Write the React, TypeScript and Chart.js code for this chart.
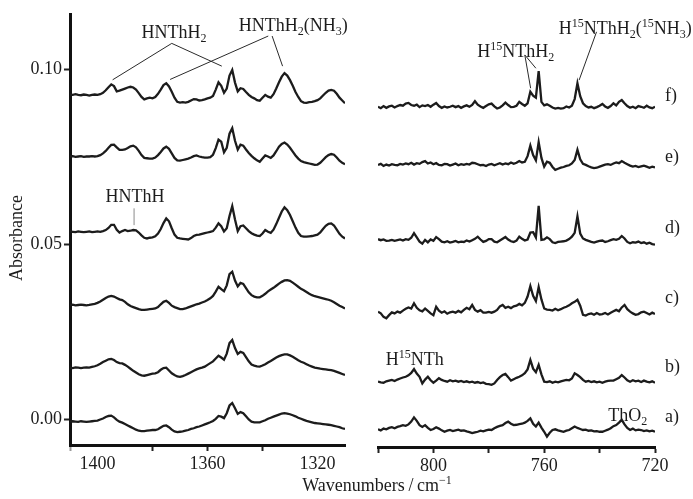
import React, { useEffect, useRef } from 'react';
import { Chart, registerables } from 'chart.js';

Chart.register(...registerables);

// ---- sample grids (1 cm^-1 steps, high to low wavenumber) ----
const LEFT_WN: number[] = Array.from({ length: 101 }, (_, i) => 1410 - i);
const RIGHT_WN: number[] = Array.from({ length: 101 }, (_, i) => 820 - i);

// ---- spectra, in 10^-3 absorbance relative to each trace's offset ----
// order of the traces: a) b) c) d) e) f)
const TRACE_LABELS = ['a)', 'b)', 'c)', 'd)', 'e)', 'f)'];
const LEFT_OFFSETS = [-0.6, 14.8, 32.7, 53.6, 75.1, 92.7];
const RIGHT_OFFSETS = [-2.8, 11.1, 30.3, 51.1, 72.7, 89.3];

const LEFT_A = [
  0.0, 0.1, 0.0, -0.1, 0.1, 0.0, -0.1, 0.0, 0.1, 0.2, 0.3,
  0.6, 0.9, 1.3, 1.6, 1.7, 1.2, 0.5, 0.0, -0.3, -0.7,
  -1.1, -1.5, -1.9, -2.3, -2.6, -2.7, -2.7, -2.6, -2.5, -2.4,
  -2.4, -2.2, -1.7, -1.2, -1.1, -1.6, -2.3, -2.8, -3.0, -2.9,
  -2.8, -2.6, -2.4, -2.1, -1.9, -1.6, -1.4, -1.1, -0.8, -0.5,
  -0.2, 0.2, 0.8, 1.6, 1.4, 1.0, 2.4, 4.6, 5.3, 3.8,
  2.2, 2.7, 2.4, 1.5, 0.6, 0.0, -0.2, -0.2, -0.2, 0.1,
  0.4, 0.8, 1.1, 1.4, 1.7, 2.0, 2.3, 2.4, 2.3, 2.1,
  1.8, 1.5, 1.1, 0.8, 0.5, 0.2, 0.0, -0.2, -0.4, -0.5,
  -0.6, -0.7, -0.8, -0.9, -1.0, -1.2, -1.4, -1.6, -1.9, -2.1,
];
const LEFT_B = [
  0.0, -0.1, 0.1, 0.0, -0.1, 0.0, 0.1, 0.0, 0.2, 0.4, 0.7,
  1.1, 1.6, 2.0, 2.4, 2.5, 2.2, 1.6, 1.3, 1.2, 0.8,
  0.3, -0.3, -0.9, -1.4, -1.9, -2.2, -2.3, -2.1, -1.9, -1.7,
  -1.6, -1.3, -0.6, -0.1, 0.0, -0.8, -1.6, -2.1, -2.5, -2.6,
  -2.4, -2.1, -1.7, -1.3, -0.9, -0.5, -0.2, 0.0, 0.3, 0.8,
  1.3, 1.8, 2.6, 3.4, 2.9, 2.3, 4.0, 7.0, 7.9, 5.6,
  3.9, 4.5, 4.2, 3.0, 1.8, 0.9, 0.6, 0.4, 0.3, 0.6,
  1.0, 1.5, 1.9, 2.4, 2.9, 3.3, 3.6, 3.8, 3.8, 3.5,
  3.1, 2.6, 2.1, 1.7, 1.4, 1.0, 0.6, 0.3, 0.0, -0.1,
  -0.3, -0.4, -0.5, -0.6, -0.7, -0.9, -1.2, -1.5, -1.8, -2.1,
];
const LEFT_C = [
  0.0, 0.1, -0.1, 0.0, 0.1, 0.0, -0.1, 0.0, 0.2, 0.3, 0.6,
  1.0, 1.5, 2.0, 2.4, 2.6, 2.4, 2.0, 1.6, 1.4, 0.9,
  0.2, -0.3, -0.6, -0.9, -1.2, -1.4, -1.4, -1.3, -1.2, -1.1,
  -1.0, -0.6, 0.2, 0.9, 1.2, 0.6, -0.2, -0.6, -0.9, -1.2,
  -1.2, -1.0, -0.7, -0.4, -0.1, 0.2, 0.4, 0.7, 1.0, 1.4,
  1.9, 2.6, 3.8, 5.2, 4.5, 3.9, 5.6, 8.8, 9.5, 7.0,
  5.3, 6.3, 6.0, 4.8, 3.6, 2.8, 2.4, 2.2, 2.2, 2.6,
  3.2, 3.9, 4.4, 4.9, 5.5, 6.1, 6.6, 7.0, 7.1, 6.9,
  6.4, 5.8, 5.2, 4.6, 4.2, 3.7, 3.2, 2.8, 2.5, 2.3,
  2.1, 1.9, 1.7, 1.5, 1.2, 0.8, 0.3, -0.2, -0.6, -1.0,
];
const LEFT_D = [
  0.1, 0.0, -0.1, 0.1, 0.0, -0.1, 0.0, 0.1, -0.1, 0.0, 0.1,
  0.0, 0.2, 0.5, 1.1, 2.0, 2.0, 0.6, -0.2, 0.2, 0.5,
  0.2, 0.3, 0.5, 0.4, -0.2, -1.0, -1.7, -1.9, -1.7, -1.6,
  -1.3, -0.5, 0.8, 2.5, 3.8, 3.0, 1.0, -0.8, -1.7, -1.9,
  -2.0, -2.1, -2.2, -1.8, -1.2, -0.9, -0.8, -0.6, -0.4, -0.2,
  0.0, 0.2, 1.2, 2.4, 1.6, 0.1, 1.0, 4.5, 7.3, 3.5,
  0.2, 1.6, 1.8, 1.0, 0.2, -0.4, -0.8, -1.1, -1.2, -0.5,
  0.5, 0.0, -0.3, 0.6, 2.2, 4.0, 5.8, 7.0, 6.2, 4.8,
  3.0, 1.2, -0.3, -1.2, -1.4, -1.4, -1.3, -1.2, -1.0, -0.8,
  -0.2, 0.8, 1.7, 2.3, 2.4, 1.8, 0.6, -0.6, -1.4, -1.9,
];
const LEFT_E = [
  0.0, 0.1, -0.1, 0.0, 0.1, -0.1, 0.0, 0.0, 0.1, 0.0, 0.1,
  0.4, 0.9, 1.6, 2.5, 3.3, 3.4, 2.6, 1.9, 1.9, 2.0,
  2.4, 2.9, 3.1, 2.6, 1.6, 0.4, -0.4, -0.5, -0.6, -0.6,
  -0.3, 0.4, 1.3, 2.3, 2.8, 2.2, 0.9, -0.4, -1.1, -1.2,
  -1.0, -0.8, -0.6, -0.3, 0.1, 0.3, 0.0, -0.2, -0.3, -0.3,
  -0.2, 0.5, 2.4, 4.8, 4.2, 1.2, 2.5, 6.5, 8.1, 4.5,
  2.0, 3.4, 3.1, 2.0, 1.0, 0.2, -0.5, -1.1, -1.5, -0.6,
  0.3, 0.0, -0.4, 0.3, 1.5, 2.8, 3.6, 4.0, 3.4, 2.5,
  1.4, 0.3, -0.6, -1.3, -1.6, -1.8, -2.0, -2.2, -2.4, -2.3,
  -1.8, -1.0, -0.2, 0.4, 0.7, 0.5, -0.3, -1.2, -1.8, -2.2,
];
const LEFT_F = [
  0.1, 0.0, 0.2, 0.0, -0.1, 0.1, 0.0, -0.2, 0.0, 0.1, 0.0,
  0.2, 0.6, 1.3, 2.2, 3.0, 2.5, 1.0, 1.2, 1.5, 1.8,
  2.1, 2.3, 2.1, 1.5, 0.5, -0.6, -1.3, -1.0, -0.8, -1.0,
  -0.6, 0.3, 1.5, 2.8, 3.3, 2.4, 0.9, -0.8, -2.0, -2.2,
  -2.1, -2.2, -2.0, -1.6, -1.2, -1.3, -1.6, -1.5, -1.3, -1.0,
  -0.8, -0.3, 1.5, 3.6, 2.6, 0.6, 1.8, 5.5, 7.1, 3.5,
  1.0, 1.9, 1.7, 0.8, 0.0, -0.6, -1.0, -1.5, -1.7, -0.8,
  0.0, -0.5, -0.8, 0.2, 1.8, 3.6, 5.2, 6.2, 5.5, 4.2,
  2.6, 0.8, -0.6, -1.8, -2.2, -2.3, -2.1, -2.0, -1.8, -1.5,
  -1.0, -0.2, 0.6, 1.2, 1.4, 1.2, 0.3, -0.8, -1.6, -2.4,
];

const RIGHT_A = [
  0.0, -0.3, 0.2, 0.0, 0.4, 0.6, 0.3, 0.7, 0.9, 1.2, 1.0,
  1.4, 2.2, 3.4, 2.4, 1.2, 0.7, 1.2, 0.4, -0.2, 0.1,
  0.6, 0.2, -0.3, -0.7, -0.4, -0.2, -0.5, -0.3, -0.1, -0.4,
  -0.3, -0.6, -0.8, -1.1, -0.9, -0.7, -0.4, -0.6, -0.3, -0.1,
  -0.2, 0.3, 0.7, 1.0, 1.2, 1.8, 2.2, 1.6, 1.2, 1.3,
  1.5, 1.6, 1.9, 2.4, 3.1, 1.6, 0.8, 1.9, 0.5, -0.7,
  -2.1, -1.0, -0.2, 0.0, -0.3, -0.5, -0.7, -0.4, -0.2, 0.3,
  0.8, 0.4, 0.1, -0.2, -0.1, -0.4, -0.3, -0.6, -0.5, -0.7,
  -0.7, -0.4, -0.1, 0.3, 0.9, 1.2, 1.9, 2.7, 1.4, 0.4,
  -0.2, 0.2, -0.3, -0.1, -0.2, -0.5, -0.3, -0.6, -0.4, -0.7,
];
const RIGHT_B = [
  -0.3, -0.5, -0.6, -0.2, 0.0, 0.2, -0.1, 0.3, 0.6, 0.9, 1.1,
  1.5, 2.2, 3.3, 2.0, 1.1, -0.8, 0.3, 1.1, 0.1, -0.6,
  0.0, 0.7, 0.2, -0.1, -0.3, 0.1, -0.2, 0.0, -0.3, -0.1,
  -0.4, -0.2, -0.5, -0.3, -0.6, -0.4, -0.7, -0.5, -0.9, -1.0,
  -1.2, -0.8, 0.2, 1.0, 1.6, 1.9, 1.0, 0.0, 0.4, 0.8,
  1.1, 1.5, 2.1, 3.2, 5.9, 3.4, 2.4, 4.5, 1.8, -0.3,
  -0.4, -0.2, -0.6, -0.3, -0.5, -0.2, 0.0, 0.2, 0.1, 0.6,
  2.1, 1.6, 1.0, 0.2, -0.3, -0.1, -0.4, -0.2, -0.5, -0.3,
  -0.6, -0.3, -0.1, 0.0, 0.0, 0.4, 0.8, 1.6, 0.9, 0.1,
  -0.3, 0.1, -0.2, 0.0, -0.4, 0.0, -0.3, -0.5, -0.2, -0.6,
];
const RIGHT_C = [
  0.5, 0.0, -1.0, -1.4, -0.5, 0.3, 0.0, 0.5, 0.2, 0.8, 1.3,
  1.7, 1.4, 2.9, 1.6, 0.9, 0.6, 1.4, 0.7, 0.0, -0.5,
  1.9, 0.8, 0.2, 0.6, -0.1, 0.3, 0.5, 0.2, 0.7, 0.3,
  1.0, 1.6, 1.2, 2.4, 1.0, 0.5, 0.9, 0.2, 0.2, 0.4,
  0.2, 0.5, 1.0, 2.0, 2.4, 1.6, 1.9, 1.5, 2.0, 2.2,
  2.7, 2.3, 3.0, 4.8, 7.8, 5.0, 3.5, 7.5, 4.0, 1.4,
  1.1, 1.0, 0.8, 1.3, 0.9, 1.2, 1.6, 1.9, 2.3, 2.9,
  3.3, 3.9, 2.2, -0.4, -0.6, -0.2, 0.0, -0.4, 0.1, -0.3,
  -0.2, 0.1, -0.3, 0.2, 0.6, 1.0, 0.6, 1.7, 2.4, 1.2,
  0.5, 0.0, -0.4, -0.2, 0.3, 0.5, 0.1, -0.3, 0.2, -0.2,
];
const RIGHT_D = [
  0.4, 0.1, 0.3, -0.1, 0.0, 0.2, -0.1, 0.1, 0.3, 0.0, 0.4,
  0.2, 0.8, 2.1, 0.9, -0.3, -0.9, 0.2, -0.5, 0.3, -0.1,
  1.0, 0.4, -0.3, -0.5, -0.2, -0.6, -0.4, -0.1, -0.5, -0.3,
  -0.4, 0.0, -0.3, 0.1, 0.5, 1.1, 0.3, -0.4, -0.1, 0.4,
  0.4, -0.3, -0.5, 0.0, 0.5, 1.0, 0.3, -0.2, -0.4, 0.0,
  1.1, 0.5, 0.0, 0.3, 2.3, 2.4, 0.9, 9.9, 0.2, 0.3,
  0.9, 0.4, -0.5, -0.7, -0.4, -0.3, -0.2, 0.0, 0.4, 1.1,
  2.2, 6.9, 2.0, 0.6, 0.2, -0.1, -0.4, -0.6, -0.3, -0.1,
  0.0, -0.4, -0.2, 0.1, 0.4, 0.2, 0.5, 1.3, 0.6, -0.4,
  -0.8, -0.5, -0.6, -0.3, -0.7, -0.5, -0.9, -0.6, -1.0, -1.2,
];
const RIGHT_E = [
  0.0, 0.3, -0.3, 0.1, -0.2, 0.2, 0.0, -0.1, 0.3, 0.1, 0.4,
  0.2, 0.6, 0.1, 0.5, 0.3, 0.8, 1.1, 0.4, 0.7, 0.2,
  0.5, 0.0, -0.1, 0.3, 0.2, -0.2, 0.1, 0.4, -0.1, 0.2,
  0.0, 0.3, 0.1, 0.6, 0.5, 0.2, -0.1, 0.0, -0.3, 0.1,
  0.3, -0.1, 0.2, 0.5, 0.1, 0.4, 0.2, 0.7, 0.3, 0.6,
  1.1, 0.7, 0.9, 2.5, 5.5, 2.8, 1.3, 6.5, 2.0, -0.5,
  0.9, 0.6, -0.6, -1.4, -1.1, -0.8, -0.6, -0.3, -0.1, 0.4,
  1.4, 4.3, 1.6, 0.3, 0.0, -0.4, -0.7, -0.9, -0.8, -0.5,
  -0.2, 0.1, 0.2, 0.0, 0.4, 0.7, 0.5, 1.1, 0.6, 0.2,
  -0.2, -0.5, -0.3, -0.6, -0.4, -0.2, -0.5, -0.8, -0.5, -0.7,
];
const RIGHT_F = [
  0.0, -0.4, 0.2, -0.3, 0.1, 0.3, -0.2, 0.2, 0.5, 0.3, 0.9,
  1.1, 0.5, 0.3, 0.6, -0.1, 0.4, 0.2, 0.5, 0.0, 0.6,
  1.1, 0.2, -0.3, 0.1, -0.2, 0.0, 0.3, -0.1, 0.2, -0.3,
  0.1, 0.4, 0.0, 0.5, 1.6, 0.6, 0.1, -0.3, 0.2, 0.7,
  0.9, 0.1, -0.5, -0.2, 0.4, 1.2, 0.5, -0.1, 0.0, 0.3,
  1.4, 0.8, 0.3, 1.0, 4.3, 3.2, 2.6, 10.2, 1.4, 0.4,
  0.7, 0.3, -0.2, -0.5, -0.3, -0.5, -0.4, 0.1, -0.2, 0.3,
  2.2, 6.7, 3.0, 1.0, 0.2, -0.2, 0.0, -0.4, -0.1, 0.3,
  0.8, 0.1, -0.3, 0.2, 1.0, 0.4, 1.4, 1.9, 1.0, 0.2,
  -0.3, 0.0, -0.4, 0.2, 0.0, -0.3, 0.3, -0.2, -0.4, 0.0,
];

const LEFT_TRACES = [LEFT_A, LEFT_B, LEFT_C, LEFT_D, LEFT_E, LEFT_F];
const RIGHT_TRACES = [RIGHT_A, RIGHT_B, RIGHT_C, RIGHT_D, RIGHT_E, RIGHT_F];

// ---- axes ----
const LEFT_TICKS = [1410, 1400, 1380, 1360, 1340, 1320];
const LEFT_TICK_LABELS = [1400, 1360, 1320];
const LEFT_TICK_MARKS = [1380, 1360, 1340];
const RIGHT_TICKS = [820, 800, 780, 760, 740, 720];
const RIGHT_TICK_LABELS = [800, 760, 720];
const Y_TICKS = [0, 0.05, 0.1];

// ---- page geometry ----
const W = 693;
const H = 499;
const ZERO_PX = 419.5; // pixel row of absorbance 0
const PX_PER_UNIT = 3502; // pixels per absorbance unit
const LEFT_BOX = { left: 70, right: 345, top: 14, bottom: 445 };
const RIGHT_BOX = { left: 378, right: 655, top: 14, bottom: 447 };

const INK = '#1c1c1c';
const FONT_FAMILY = '"Liberation Serif", "DejaVu Serif", serif';
const MAIN_FONT = `18px ${FONT_FAMILY}`;
const SMALL_FONT = `12px ${FONT_FAMILY}`;

// rich text: 0 = normal, 1 = subscript, 2 = superscript
type Part = [string, number];
interface Note { parts: Part[]; wn: number; a: number; align: 'left' | 'center' }

const LEFT_NOTES: Note[] = [
  { parts: [['HNThH', 0], ['2', 1]], wn: 1372.2, a: 0.1089, align: 'center' },
  { parts: [['HNThH', 0], ['2', 1], ['(NH', 0], ['3', 1], [')', 0]], wn: 1328.8, a: 0.1109, align: 'center' },
  { parts: [['HNThH', 0]], wn: 1386.4, a: 0.0621, align: 'center' },
];
const LEFT_LEADERS: number[][] = [
  [1373.0, 0.1074, 1394.5, 0.097],
  [1373.0, 0.1074, 1354.8, 0.1009],
  [1337.9, 0.1095, 1373.6, 0.0971],
  [1336.5, 0.1095, 1332.7, 0.1009],
];
const LEFT_GRAY_LEADERS: number[][] = [[1386.7, 0.0603, 1386.7, 0.0555]];

const RIGHT_NOTES: Note[] = [
  { parts: [['H', 0], ['15', 2], ['NThH', 0], ['2', 1]], wn: 770.3, a: 0.1035, align: 'center' },
  { parts: [['H', 0], ['15', 2], ['NThH', 0], ['2', 1], ['(', 0], ['15', 2], ['NH', 0], ['3', 1], [')', 0]], wn: 730.7, a: 0.1101, align: 'center' },
  { parts: [['H', 0], ['15', 2], ['NTh', 0]], wn: 806.7, a: 0.0156, align: 'center' },
  { parts: [['ThO', 0], ['2', 1]], wn: 729.8, a: -0.0004, align: 'center' },
];
const RIGHT_LEADERS: number[][] = [
  [767.0, 0.1041, 764.9, 0.0946],
  [767.0, 0.1041, 763.0, 0.1003],
  [741.1, 0.1107, 747.4, 0.0969],
];
const TRACE_LABEL_WN = 716.4;
const TRACE_LABEL_Y = [-0.0007, 0.0136, 0.0333, 0.0533, 0.0735, 0.0909];

function setFont(ctx: CanvasRenderingContext2D, kind: number) {
  ctx.font = kind === 0 ? MAIN_FONT : SMALL_FONT;
}

function richWidth(ctx: CanvasRenderingContext2D, parts: Part[]) {
  let w = 0;
  for (const [t, k] of parts) {
    setFont(ctx, k);
    w += ctx.measureText(t).width;
  }
  return w;
}

function drawRich(ctx: CanvasRenderingContext2D, parts: Part[], x: number, y: number, align: string) {
  const w = richWidth(ctx, parts);
  let cx = align === 'center' ? x - w / 2 : x;
  ctx.textAlign = 'left';
  ctx.textBaseline = 'alphabetic';
  for (const [t, k] of parts) {
    setFont(ctx, k);
    const dy = k === 1 ? 4 : k === 2 ? -7 : 0;
    ctx.fillText(t, cx, y + dy);
    cx += ctx.measureText(t).width;
  }
}

function drawLeaders(chart: any, leaders: number[][], color: string) {
  const ctx: CanvasRenderingContext2D = chart.ctx;
  const xs = chart.scales.x;
  const ys = chart.scales.y;
  ctx.save();
  ctx.strokeStyle = color;
  ctx.lineWidth = 1;
  for (const [w1, a1, w2, a2] of leaders) {
    ctx.beginPath();
    ctx.moveTo(xs.getPixelForValue(w1), ys.getPixelForValue(a1));
    ctx.lineTo(xs.getPixelForValue(w2), ys.getPixelForValue(a2));
    ctx.stroke();
  }
  ctx.restore();
}

function drawNotes(chart: any, notes: Note[]) {
  const ctx: CanvasRenderingContext2D = chart.ctx;
  const xs = chart.scales.x;
  const ys = chart.scales.y;
  ctx.save();
  ctx.fillStyle = INK;
  for (const n of notes) {
    drawRich(ctx, n.parts, xs.getPixelForValue(n.wn), ys.getPixelForValue(n.a), n.align);
  }
  ctx.restore();
}

const leftDecor = {
  id: 'leftDecor',
  afterDraw(chart: any) {
    drawLeaders(chart, LEFT_LEADERS, '#2a2a2a');
    drawLeaders(chart, LEFT_GRAY_LEADERS, '#8a8a8a');
    drawNotes(chart, LEFT_NOTES);
    const ctx: CanvasRenderingContext2D = chart.ctx;
    const area = chart.chartArea;
    ctx.save();
    ctx.fillStyle = INK;
    ctx.font = MAIN_FONT;
    ctx.textAlign = 'center';
    ctx.textBaseline = 'middle';
    ctx.translate(17, (area.top + area.bottom) / 2 + 8.5);
    ctx.rotate(-Math.PI / 2);
    ctx.fillText('Absorbance', 0, 0);
    ctx.restore();
  },
};

const rightDecor = {
  id: 'rightDecor',
  afterDraw(chart: any) {
    drawLeaders(chart, RIGHT_LEADERS, '#2a2a2a');
    drawNotes(chart, RIGHT_NOTES);
    const ctx: CanvasRenderingContext2D = chart.ctx;
    const xs = chart.scales.x;
    const ys = chart.scales.y;
    ctx.save();
    ctx.fillStyle = INK;
    TRACE_LABELS.forEach((t, i) => {
      drawRich(ctx, [[t, 0]], xs.getPixelForValue(TRACE_LABEL_WN), ys.getPixelForValue(TRACE_LABEL_Y[i]), 'left');
    });
    drawRich(ctx, [['Wavenumbers\u2009/\u2009cm', 0], ['\u22121', 2]], 377, 491, 'center');
    ctx.restore();
  },
};

function yRange(box: { top: number; bottom: number }) {
  return {
    min: (ZERO_PX - box.bottom) / PX_PER_UNIT,
    max: (ZERO_PX - box.top) / PX_PER_UNIT,
  };
}

function makeDatasets(wn: number[], traces: number[][], offsets: number[]) {
  return traces.map((vals, k) => ({
    label: TRACE_LABELS[k],
    data: wn.map((x, i) => ({ x, y: (offsets[k] + vals[i]) / 1000 })),
    borderColor: INK,
    borderWidth: 2.3,
    pointRadius: 0,
    tension: 0,
    fill: false,
  }));
}

function xScale(
  min: number,
  max: number,
  ticks: number[],
  labels: number[],
  marks: number[] | null,
  height: number,
) {
  return {
    type: 'linear' as const,
    reverse: true,
    min,
    max,
    afterBuildTicks: (s: any) => {
      s.ticks = ticks.map((v) => ({ value: v }));
    },
    afterFit: (s: any) => {
      s.height = height;
    },
    border: { display: true, color: '#111', width: 3 },
    grid: {
      drawOnChartArea: false,
      drawTicks: true,
      tickLength: 6,
      tickWidth: 2,
      tickColor: (c: any) => {
        if (!marks) return '#222';
        if (c.tick && marks.includes(c.tick.value)) return '#222';
        if (c.tick && c.tick.value === 1410) return '#9a9a9a';
        return 'rgba(0,0,0,0)';
      },
    },
    ticks: {
      autoSkip: false,
      maxRotation: 0,
      padding: 2,
      color: INK,
      font: { family: FONT_FAMILY, size: 18 },
      callback: (v: any) => (labels.includes(Number(v)) ? String(v) : ''),
    },
  };
}

export default function App() {
  const leftRef = useRef<HTMLCanvasElement | null>(null);
  const rightRef = useRef<HTMLCanvasElement | null>(null);

  useEffect(() => {
    if (!leftRef.current || !rightRef.current) return;
    Chart.defaults.font.family = FONT_FAMILY;

    const ly = yRange(LEFT_BOX);
    const left = new Chart(leftRef.current, {
      type: 'line',
      data: { datasets: makeDatasets(LEFT_WN, LEFT_TRACES, LEFT_OFFSETS) as any },
      options: {
        responsive: false,
        animation: false,
        events: [],
        layout: { padding: { left: 0, top: LEFT_BOX.top, right: W - LEFT_BOX.right, bottom: 0 } },
        plugins: { legend: { display: false }, tooltip: { enabled: false } },
        scales: {
          x: xScale(1310, 1410, LEFT_TICKS, LEFT_TICK_LABELS, LEFT_TICK_MARKS, H - LEFT_BOX.bottom) as any,
          y: {
            type: 'linear',
            min: ly.min,
            max: ly.max,
            afterBuildTicks: (s: any) => {
              s.ticks = Y_TICKS.map((v) => ({ value: v }));
            },
            afterFit: (s: any) => {
              s.width = LEFT_BOX.left;
            },
            border: { display: true, color: '#111', width: 3 },
            grid: { drawOnChartArea: false, drawTicks: true, tickLength: 6, tickWidth: 2, tickColor: '#222' },
            ticks: {
              padding: 2,
              color: INK,
              font: { family: FONT_FAMILY, size: 18 },
              callback: (v: any) => Number(v).toFixed(2),
            },
          },
        },
      },
      plugins: [leftDecor],
    });

    const ry = yRange(RIGHT_BOX);
    const right = new Chart(rightRef.current, {
      type: 'line',
      data: { datasets: makeDatasets(RIGHT_WN, RIGHT_TRACES, RIGHT_OFFSETS) as any },
      options: {
        responsive: false,
        animation: false,
        events: [],
        layout: { padding: { left: RIGHT_BOX.left, top: RIGHT_BOX.top, right: W - RIGHT_BOX.right, bottom: 0 } },
        plugins: { legend: { display: false }, tooltip: { enabled: false } },
        scales: {
          x: xScale(720, 820, RIGHT_TICKS, RIGHT_TICK_LABELS, null, H - RIGHT_BOX.bottom) as any,
          y: { type: 'linear', display: false, min: ry.min, max: ry.max },
        },
      },
      plugins: [rightDecor],
    });

    return () => {
      left.destroy();
      right.destroy();
    };
  }, []);

  const canvasStyle: React.CSSProperties = { position: 'absolute', left: 0, top: 0, width: W, height: H };
  return (
    <div style={{ position: 'fixed', left: 0, top: 0, width: W, height: H, background: '#fff' }}>
      <canvas ref={leftRef} width={W} height={H} style={canvasStyle} />
      <canvas ref={rightRef} width={W} height={H} style={canvasStyle} />
    </div>
  );
}
